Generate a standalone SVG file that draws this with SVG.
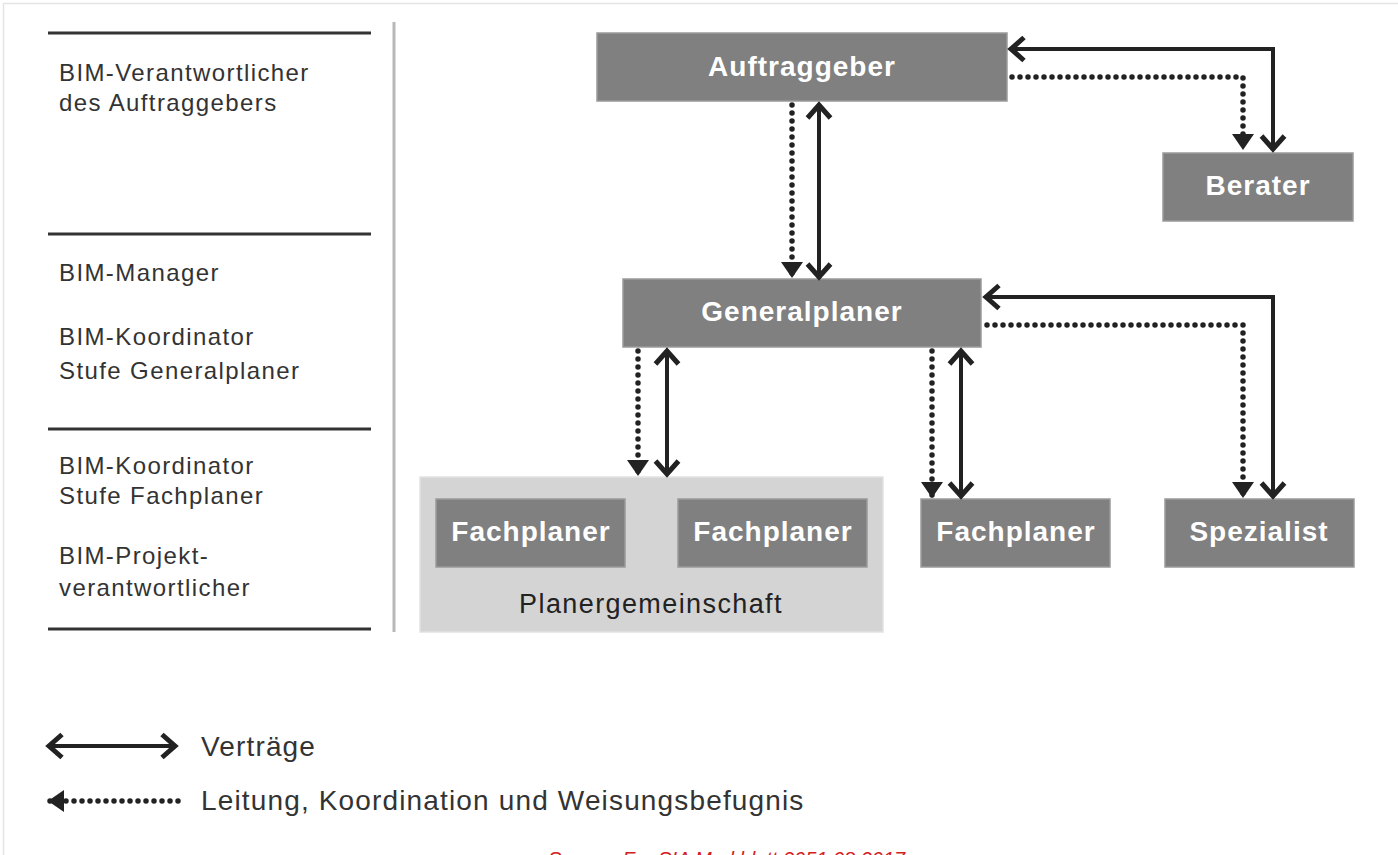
<svg xmlns="http://www.w3.org/2000/svg" width="1398" height="855" viewBox="0 0 1398 855">
<style>
  .box { fill: #808080; stroke: #9a9a9a; stroke-width: 1.5; }
  .group { fill: #d4d4d4; stroke: #e2e2e2; stroke-width: 1.5; }
  .lbl { font-family: "Liberation Sans", Arial, sans-serif; font-weight: bold; font-size: 28px; fill: #ffffff; text-anchor: middle; letter-spacing: 1px; }
  .glbl { font-family: "Liberation Sans", Arial, sans-serif; font-size: 27px; fill: #222222; text-anchor: middle; letter-spacing: 1.4px; }
  .role { font-family: "Liberation Sans", Arial, sans-serif; font-size: 24px; fill: #333333; letter-spacing: 1.4px; }
  .leg { font-family: "Liberation Sans", Arial, sans-serif; font-size: 28px; fill: #333333; letter-spacing: 1.15px; }
  .sep { stroke: #333333; stroke-width: 3; }
  .solid { fill: none; stroke: #222222; stroke-width: 4; marker-start: url(#chev); marker-end: url(#chev); }
  .dot { fill: none; stroke: #222222; stroke-width: 5.5; stroke-dasharray: 0 8; stroke-linecap: round; marker-end: url(#tri); }
</style>
<defs>
  <marker id="chev" markerUnits="userSpaceOnUse" viewBox="0 0 20 28" refX="17" refY="14" markerWidth="20" markerHeight="28" orient="auto-start-reverse">
    <path d="M3,2.5 L16,14 L3,25.5" fill="none" stroke="#222222" stroke-width="5" stroke-linejoin="miter"/>
  </marker>
  <marker id="tri" markerUnits="userSpaceOnUse" viewBox="0 0 17 24" refX="16" refY="12" markerWidth="17" markerHeight="24" orient="auto-start-reverse">
    <path d="M0,1 L16,12 L0,23 z" fill="#222222"/>
  </marker>
</defs>

<rect x="0" y="0" width="1398" height="855" fill="#ffffff"/>
<path d="M3.5,855 V3.5 H1398" fill="none" stroke="#e4e4e4" stroke-width="1.5"/>

<g id="roles">
  <line class="sep" x1="48" y1="33" x2="371" y2="33"/>
  <line class="sep" x1="48" y1="234" x2="371" y2="234"/>
  <line class="sep" x1="48" y1="429" x2="371" y2="429"/>
  <line class="sep" x1="48" y1="629" x2="371" y2="629"/>
  <line x1="394" y1="22" x2="394" y2="632" stroke="#b8b8b8" stroke-width="3"/>
  <text class="role" x="59" y="81">BIM-Verantwortlicher</text>
  <text class="role" x="59" y="111">des Auftraggebers</text>
  <text class="role" x="59" y="281">BIM-Manager</text>
  <text class="role" x="59" y="345">BIM-Koordinator</text>
  <text class="role" x="59" y="379">Stufe Generalplaner</text>
  <text class="role" x="59" y="474">BIM-Koordinator</text>
  <text class="role" x="59" y="504">Stufe Fachplaner</text>
  <text class="role" x="59" y="564">BIM-Projekt-</text>
  <text class="role" x="59" y="596">verantwortlicher</text>
</g>

<g id="auftraggeber">
  <rect class="box" x="597" y="33" width="410" height="68"/>
  <text class="lbl" x="802" y="76">Auftraggeber</text>
</g>
<g id="berater">
  <rect class="box" x="1163" y="153" width="190" height="68"/>
  <text class="lbl" x="1258" y="195">Berater</text>
</g>
<g id="generalplaner">
  <rect class="box" x="623" y="279" width="358" height="68"/>
  <text class="lbl" x="802" y="321">Generalplaner</text>
</g>
<g id="planergemeinschaft">
  <rect class="group" x="420" y="477" width="463" height="155"/>
  <text class="glbl" x="651" y="613">Planergemeinschaft</text>
</g>
<g id="fachplaner1">
  <rect class="box" x="436" y="499" width="189" height="68"/>
  <text class="lbl" x="531" y="541">Fachplaner</text>
</g>
<g id="fachplaner2">
  <rect class="box" x="678" y="499" width="189" height="68"/>
  <text class="lbl" x="773" y="541">Fachplaner</text>
</g>
<g id="fachplaner3">
  <rect class="box" x="921" y="499" width="189" height="68"/>
  <text class="lbl" x="1016" y="541">Fachplaner</text>
</g>
<g id="spezialist">
  <rect class="box" x="1165" y="499" width="189" height="68"/>
  <text class="lbl" x="1259" y="541">Spezialist</text>
</g>

<g id="connectors">
  <path class="solid" d="M1010,49 H1273 V150"/>
  <path class="dot" d="M1012,77 H1243 V150"/>
  <path class="dot" d="M792,105 V278"/>
  <path class="solid" d="M819,104 V278"/>
  <path class="solid" d="M985,297 H1273 V497"/>
  <path class="dot" d="M987,325 H1243 V498"/>
  <path class="dot" d="M638,351 V476"/>
  <path class="solid" d="M667,350 V475"/>
  <path class="dot" d="M932,351 V498"/>
  <path class="solid" d="M961,350 V497"/>
</g>

<g id="legend">
  <path class="solid" d="M48,746 H176"/>
  <text class="leg" x="201" y="756">Verträge</text>
  <path class="dot" d="M178,801 H48"/>
  <text class="leg" x="201" y="810">Leitung, Koordination und Weisungsbefugnis</text>
</g>

<text x="548" y="866" font-family="'Liberation Sans', Arial, sans-serif" font-size="20" font-style="italic" fill="#d42020">Source: For SIA Merkblatt 2051:08 2017</text>
</svg>
